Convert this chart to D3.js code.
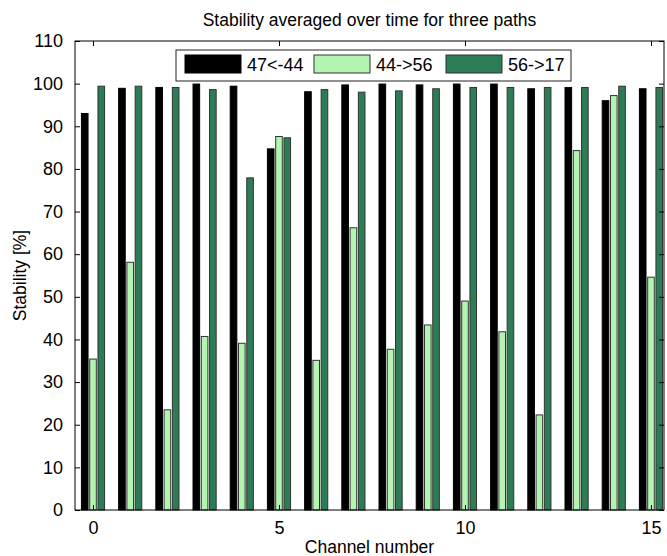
<!DOCTYPE html>
<html>
<head>
<meta charset="utf-8">
<script src="https://cdn.jsdelivr.net/npm/d3@7"></script>
<style>
    body { margin: 0; background: #fff; }
    text { font-family: Arial, "Liberation Sans", Helvetica, sans-serif; fill: #000; }
</style>
</head>
<body>
<div id="chart"></div>
<script>

// channels 0..15
var channels = d3.range(0, 16);

var seriesNames = ["47<-44", "44->56", "56->17"];

var path47from44 = [93.0, 98.9, 99.1, 99.9, 99.4, 84.7, 98.1, 99.7, 99.9, 99.7, 99.9, 99.9, 98.8, 99.1, 96.0, 98.8];
var path44to56 = [35.4, 58.1, 23.5, 40.7, 39.1, 87.6, 35.1, 66.2, 37.7, 43.4, 49.0, 41.8, 22.3, 84.3, 97.2, 54.6];
var path56to17 = [99.4, 99.4, 99.1, 98.6, 77.9, 87.3, 98.6, 98.0, 98.3, 98.8, 99.1, 99.1, 99.1, 99.1, 99.4, 99.1];

var xTicks = [0, 5, 10, 15];
var yTicks = d3.range(0, 111, 10);

var colors = ["#000000", "#b2f5b0", "#2c7d56"];
var edges = ["#000000", "#333333", "#333333"];

var allSeries = [path47from44, path44to56, path56to17];

var W = 667, H = 556;
var margin = {top: 41, right: 3, bottom: 46, left: 75},
    width = W - margin.left - margin.right,
    height = H - margin.top - margin.bottom;

var svg = d3.select("#chart").append("svg")
    .attr("width", W)
    .attr("height", H);

var g = svg.append("g")
    .attr("transform", "translate(" + margin.left + "," + margin.top + ")");

var x = d3.scaleLinear()
    .domain([-0.484, 15.35])
    .range([0, width]);

var y = d3.scaleLinear()
    .domain([0, 110])
    .range([height, 0]);

// offsets of each series inside a group (matlab style grouping)
var x1 = d3.scaleBand()
    .domain(d3.range(seriesNames.length))
    .range([-1 / 3, 1 / 3]);

var unit = x(1) - x(0);
var barW = x1.bandwidth() * 0.8 * unit;

// bars
allSeries.forEach(function (vals, s) {
    g.selectAll(".bar-" + s)
        .data(channels)
        .enter()
        .append("rect")
        .attr("class", "bar-" + s)
        .attr("x", function (d) {
            return x(d + x1(s) + x1.bandwidth() / 2) - barW / 2;
        })
        .attr("width", barW)
        .attr("y", function (d) {
            return y(vals[d]);
        })
        .attr("height", function (d) {
            return y(0) - y(vals[d]);
        })
        .style("fill", colors[s])
        .style("stroke", edges[s])
        .style("stroke-width", 1);
});

// axes, ticks pointing inward
var tickFont = "18px";

g.append("g")
    .attr("class", "x axis")
    .attr("transform", "translate(0," + height + ")")
    .call(d3.axisBottom(x).tickValues(xTicks).tickSizeInner(-5).tickSizeOuter(0).tickPadding(11).tickFormat(d3.format("d")))
    .style("font-size", tickFont);

g.append("g")
    .attr("class", "x axis top")
    .call(d3.axisTop(x).tickValues(xTicks).tickSizeInner(-5).tickSizeOuter(0).tickFormat(""));

g.append("g")
    .attr("class", "y axis")
    .call(d3.axisLeft(y).tickValues(yTicks).tickSizeInner(-5).tickSizeOuter(0).tickPadding(12))
    .style("font-size", tickFont);

g.append("g")
    .attr("class", "y axis right")
    .attr("transform", "translate(" + width + ",0)")
    .call(d3.axisRight(y).tickValues(yTicks).tickSizeInner(-5).tickSizeOuter(0).tickFormat(""));

g.selectAll(".axis .domain").remove();
g.selectAll(".axis line").style("stroke", "#000");
g.selectAll(".axis text").style("font-family", "Arial, 'Liberation Sans', sans-serif");

// box
g.append("rect")
    .attr("x", 0)
    .attr("y", 0)
    .attr("width", width)
    .attr("height", height)
    .style("fill", "none")
    .style("stroke", "#000")
    .style("stroke-width", 1);

// legend
var legend = g.append("g")
    .attr("transform", "translate(" + (176 - margin.left) + "," + (50 - margin.top) + ")");

legend.append("rect")
    .attr("width", 395)
    .attr("height", 31)
    .style("fill", "#fff")
    .style("stroke", "#222");

var legendX = [9, 138, 270];
seriesNames.forEach(function (name, s) {
    legend.append("rect")
        .attr("x", legendX[s])
        .attr("y", 5)
        .attr("width", 56)
        .attr("height", 18)
        .style("fill", colors[s])
        .style("stroke", edges[s]);
    legend.append("text")
        .attr("x", legendX[s] + 62)
        .attr("y", 21)
        .style("font-size", "18px")
        .text(name);
});

// titles
svg.append("text")
    .attr("x", margin.left + width / 2)
    .attr("y", 26)
    .style("text-anchor", "middle")
    .style("font-size", "17.5px")
    .text("Stability averaged over time for three paths");

svg.append("text")
    .attr("x", margin.left + width / 2)
    .attr("y", 553)
    .style("text-anchor", "middle")
    .style("font-size", "17.5px")
    .text("Channel number");

svg.append("text")
    .attr("transform", "translate(26," + (margin.top + height / 2) + ") rotate(-90)")
    .style("text-anchor", "middle")
    .style("font-size", "17.5px")
    .text("Stability [%]");

</script>
</body>
</html>
